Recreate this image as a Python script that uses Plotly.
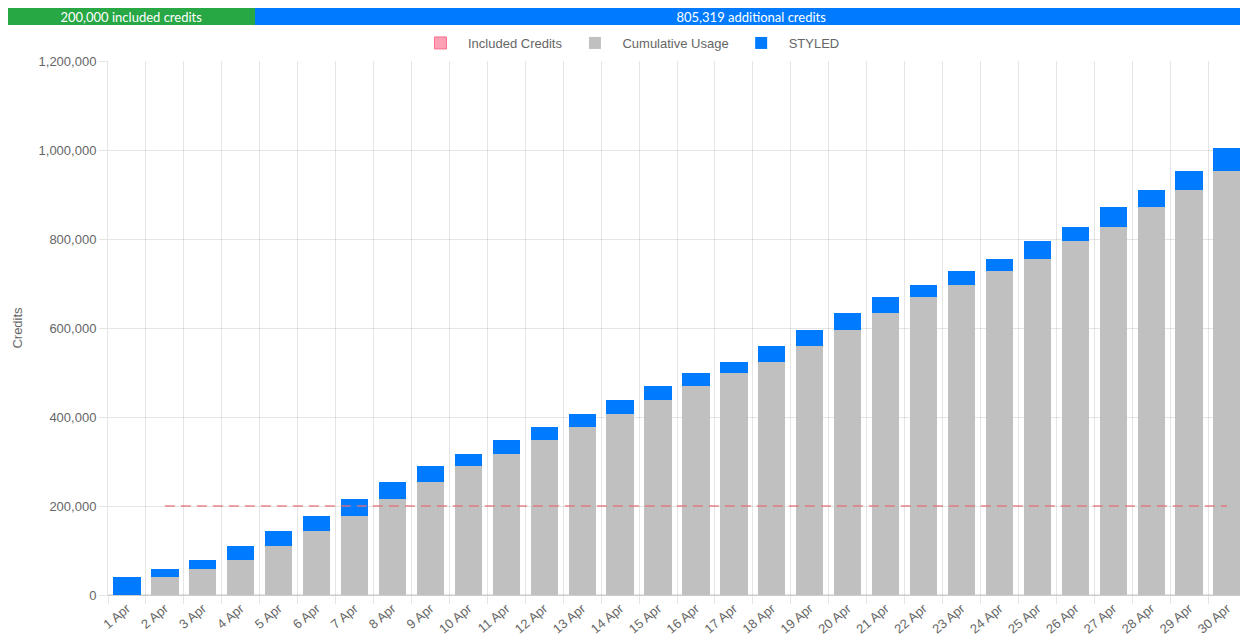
import plotly.graph_objects as go

days = [f"{d} Apr" for d in range(1, 31)]
cumulative_usage = [0, 40000, 59000, 79500, 111000, 144500, 178000, 215500, 255000, 290500,
                    316000, 347500, 377000, 407500, 438000, 469000, 499500, 522500, 558500, 595500,
                    633500, 669000, 696000, 727500, 755000, 796000, 827500, 872500, 910000, 953500]
styled = [40000, 19000, 20500, 31500, 33500, 33500, 37500, 39500, 35500, 25500,
          31500, 29500, 30500, 30500, 31000, 30500, 23000, 36000, 37000, 38000,
          35500, 27000, 31500, 27500, 41000, 31500, 45000, 37500, 43500, 51819]
included_credits = 200000
total_credits = 1005319
additional_credits = total_credits - included_credits
y_ticks = [0, 200000, 400000, 600000, 800000, 1000000, 1200000]

GRID = "rgba(0,0,0,0.1)"
TXT = "#666666"
FONT = "Liberation Sans, Arial, sans-serif"

fig = go.Figure()

# legend-only swatch for the included-credits line
fig.add_trace(go.Bar(x=[days[0]], y=[None], name="Included Credits",
                     marker=dict(color="rgba(255,99,132,0.6)", line=dict(color="rgba(255,99,132,0.9)", width=1)),
                     legendgroup="inc", xaxis="x", yaxis="y"))
fig.add_trace(go.Bar(x=days, y=cumulative_usage, name="Cumulative Usage",
                     marker=dict(color="#c0c0c0", line=dict(width=0)), xaxis="x", yaxis="y"))
fig.add_trace(go.Bar(x=days, y=styled, name="STYLED",
                     marker=dict(color="#007bff", line=dict(width=0)), xaxis="x", yaxis="y"))
fig.add_trace(go.Scatter(x=days[1:], y=[included_credits] * (len(days) - 1), mode="lines",
                         name="Included Credits", showlegend=False, legendgroup="inc",
                         line=dict(color="rgba(230,110,120,0.85)", width=1.5, dash="10px,6px"),
                         xaxis="x", yaxis="y"))

# top progress bar
fig.add_trace(go.Bar(y=["p"], x=[included_credits], orientation="h", showlegend=False, width=[1],
                     marker=dict(color="#28a745", line=dict(width=0)),
                     text=[f"{included_credits:,} included credits"], textposition="inside",
                     insidetextanchor="middle", textfont=dict(color="white", size=13, family="Lato"),
                     xaxis="x2", yaxis="y2", hoverinfo="skip"))
fig.add_trace(go.Bar(y=["p"], x=[additional_credits], orientation="h", showlegend=False, width=[1],
                     marker=dict(color="#007bff", line=dict(width=0)),
                     text=[f"{additional_credits:,} additional credits"], textposition="inside",
                     insidetextanchor="middle", textfont=dict(color="white", size=13, family="Lato"),
                     xaxis="x2", yaxis="y2", hoverinfo="skip"))

# the page body has an 8px margin, so the figure sits at (8, 8) in the window
OFF = 8
W, H = 1248 - OFF, 639 - OFF
ml, mr, mt, mb = 0, 0, 0, 44
pw = W - ml - mr
ph = H - mt - mb
bottom = H - mb              # y of plot bottom in figure px
x0 = (108 - OFF - ml) / pw
x1 = (1246 - OFF - ml) / pw
ytop = (bottom - (61 - OFF)) / ph
p_lo = (bottom - (25 - OFF)) / ph

fig.update_layout(
    width=W, height=H,
    margin=dict(l=ml, r=mr, t=mt, b=mb, autoexpand=False),
    paper_bgcolor="white", plot_bgcolor="white",
    barmode="stack", bargap=0.28,
    uniformtext=dict(minsize=13, mode="show"),
    font=dict(family=FONT, size=13, color=TXT),
    showlegend=True,
    legend=dict(orientation="h", x=(629 - OFF - ml) / pw, xanchor="center",
                y=(bottom - (43 - OFF)) / ph, yanchor="middle", itemwidth=45,
                font=dict(size=13, color=TXT), traceorder="normal"),
    xaxis=dict(domain=[x0, x1], anchor="y", type="category", tickson="boundaries",
               showgrid=True, gridcolor=GRID, gridwidth=1, automargin=False,
               ticks="outside", ticklen=8, tickcolor=GRID,
               tickangle=-40, tickfont=dict(size=13, color=TXT),
               showline=True, linecolor=GRID, zeroline=False),
    yaxis=dict(domain=[0, ytop], anchor="x", range=[0, 1200000], tickvals=y_ticks,
               tickformat=",", showgrid=True, gridcolor=GRID, gridwidth=1, automargin=False,
               ticks="outside", ticklen=8, tickcolor=GRID,
               showline=True, linecolor=GRID, zeroline=True, zerolinecolor=GRID,
               tickfont=dict(size=13, color=TXT),
               title=dict(text="Credits", font=dict(size=13, color=TXT), standoff=13)),
    xaxis2=dict(domain=[0, 1], anchor="y2", range=[0, total_credits], visible=False, automargin=False),
    yaxis2=dict(domain=[p_lo, 1], anchor="x2", visible=False, automargin=False),
)

fig.write_html("out.html")
